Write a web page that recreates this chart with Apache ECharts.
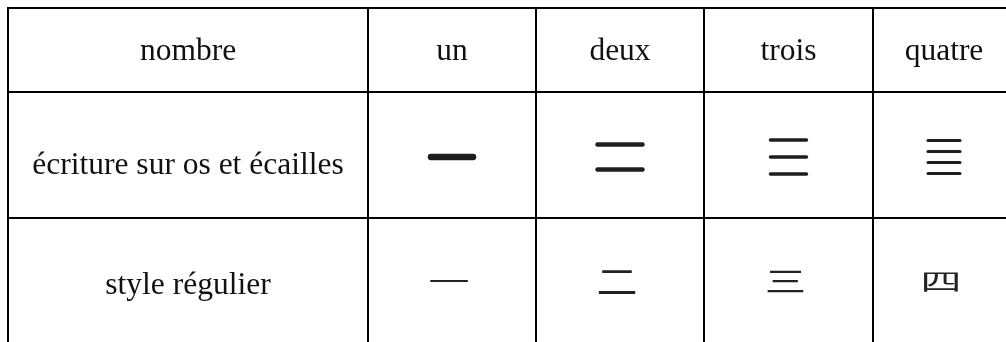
<!DOCTYPE html>
<html>
<head>
<meta charset="utf-8">
<script src="https://cdn.jsdelivr.net/npm/echarts@6/dist/echarts.min.js"></script>
<style>
html,body{margin:0;padding:0;background:#fff;}
#chart{width:1006px;height:342px;}
</style>
</head>
<body>
<div id="chart"></div>
<script>
// ---- data ----
const headerLabels = ['nombre', 'un', 'deux', 'trois', 'quatre'];
const rowLabels = ['écriture sur os et écailles', 'style régulier'];
const numberValues = [1, 2, 3, 4];           // oracle-bone numerals = n horizontal strokes
const regularChars = ['一', '二', '三', '四']; // regular script

// ---- layout (not data) ----
const colEdges = [0, 360, 528, 696, 865, 1007];
const rowEdges = [0, 84, 210, 337];
const rowTextOffset = [2, 11, 4];
const oracleStyle = [
  {len: 42, w: 6.5, gap: 0},
  {len: 45, w: 4.5, gap: 25},
  {len: 36, w: 3.5, gap: 17},
  {len: 32, w: 3, gap: 11}
];
const regularScaleY = [0.6, 0.85, 0.7, 0.55];

// build cells
const cells = [];
headerLabels.forEach((t, c) => cells.push({col: c, row: 0, kind: 'text', text: t}));
rowLabels.forEach((t, r) => cells.push({col: 0, row: r + 1, kind: 'text', text: t}));
numberValues.forEach((n, i) => cells.push({col: i + 1, row: 1, kind: 'oracle', n: n, idx: i}));
regularChars.forEach((ch, i) => cells.push({col: i + 1, row: 2, kind: 'regular', text: ch, idx: i}));

const chart = echarts.init(document.getElementById('chart'));
chart.setOption({
  animation: false,
  grid: {left: 8, top: 8, right: 0, bottom: 0},
  xAxis: {type: 'value', min: 0, max: 998, show: false},
  yAxis: {type: 'value', min: 0, max: 334, inverse: true, show: false},
  series: [{
    type: 'custom',
    clip: false,
    data: cells.map(c => [c.col, c.row]),
    renderItem: function (params, api) {
      const cell = cells[params.dataIndex];
      const col = api.value(0), row = api.value(1);
      const p0 = api.coord([colEdges[col], rowEdges[row]]);
      const p1 = api.coord([colEdges[col + 1], rowEdges[row + 1]]);
      const cx = (p0[0] + p1[0]) / 2, cy = (p0[1] + p1[1]) / 2;
      const children = [{
        type: 'rect',
        shape: {x: p0[0], y: p0[1], width: p1[0] - p0[0], height: p1[1] - p0[1]},
        style: {fill: 'none', stroke: '#000', lineWidth: 2}
      }];
      if (cell.kind === 'text') {
        children.push({
          type: 'text', x: cx, y: cy + rowTextOffset[row],
          style: {text: cell.text, fontFamily: 'Liberation Serif', fontSize: 31.5,
                  fill: '#111', align: 'center', verticalAlign: 'middle'}
        });
      } else if (cell.kind === 'oracle') {
        const st = oracleStyle[cell.idx];
        const n = cell.n;
        for (let k = 0; k < n; k++) {
          const y = cy + 2 + (k - (n - 1) / 2) * st.gap;
          children.push({
            type: 'line',
            shape: {x1: cx - st.len / 2, y1: y, x2: cx + st.len / 2, y2: y},
            style: {stroke: '#1e1e1e', lineWidth: st.w, lineCap: 'round'}
          });
        }
      } else {
        children.push({
          type: 'text', x: cx - 3, y: cy,
          scaleX: 1, scaleY: regularScaleY[cell.idx],
          style: {text: cell.text, fontFamily: 'Noto Sans CJK SC', fontSize: 41,
                  fill: '#222', align: 'center', verticalAlign: 'middle'}
        });
      }
      return {type: 'group', children: children};
    }
  }]
});
</script>
</body>
</html>
